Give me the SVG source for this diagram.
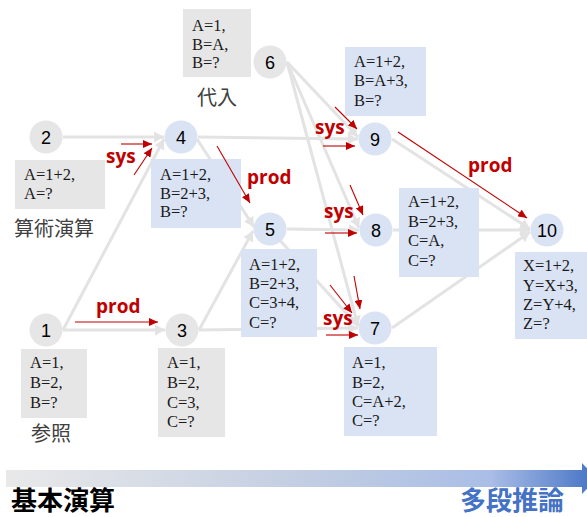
<svg xmlns="http://www.w3.org/2000/svg" width="587" height="517" viewBox="0 0 587 517">
<style>
.edge{stroke:#e3e3e3;stroke-width:3;fill:none}
.red{stroke:#c00000;stroke-width:1.1;fill:none}
.gc{fill:#e7e6e6}
.bc{fill:#dae3f3}
.gb{fill:#e7e6e6}
.bb{fill:#dae3f3}
.num{font-family:"Liberation Sans",Arial,sans-serif;font-size:18px;fill:#000;text-anchor:middle}
.bt{font-family:"Liberation Serif","Times New Roman",serif;font-size:16.5px;fill:#1a1a1a}
.lab{font-family:"Open Sans","Liberation Sans",sans-serif;font-weight:bold;font-size:19px;fill:#c00000}
.cjk{font-family:"Noto Sans CJK JP","Noto Sans CJK SC",sans-serif;font-size:20px;fill:#404040}
.big{font-family:"Noto Sans CJK JP","Noto Sans CJK SC",sans-serif;font-size:26px;font-weight:bold}
</style>
<defs>
<marker id="ga" markerUnits="userSpaceOnUse" markerWidth="11" markerHeight="11" refX="10" refY="5.5" orient="auto">
<path d="M0,0 L10,5.5 L0,11 z" fill="#e3e3e3"/>
</marker>
<marker id="ra" markerUnits="userSpaceOnUse" markerWidth="9" markerHeight="8" refX="9" refY="4" orient="auto">
<path d="M0,0 L9,4 L0,8 z" fill="#c00000"/>
</marker>
<linearGradient id="bar" x1="0" y1="0" x2="1" y2="0">
<stop offset="0" stop-color="#e9e9e9"/>
<stop offset="0.5" stop-color="#c3cee2"/>
<stop offset="0.82" stop-color="#a9bde6"/>
<stop offset="1" stop-color="#4472c4"/>
</linearGradient>
</defs>
<rect width="587" height="517" fill="#fff"/>

<g id="connectors">
<line class="edge" x1="63" y1="137" x2="164" y2="137" marker-end="url(#ga)"/>
<line class="edge" x1="63" y1="330" x2="164" y2="139" marker-end="url(#ga)"/>
<line class="edge" x1="63" y1="330" x2="165" y2="330" marker-end="url(#ga)"/>
<line class="edge" x1="199" y1="330" x2="253" y2="231" marker-end="url(#ga)"/>
<line class="edge" x1="199" y1="330" x2="358" y2="328" marker-end="url(#ga)"/>
<line class="edge" x1="197" y1="139" x2="254" y2="227" marker-end="url(#ga)"/>
<line class="edge" x1="198" y1="137" x2="358" y2="139" marker-end="url(#ga)"/>
<line class="edge" x1="287" y1="229" x2="359" y2="230" marker-end="url(#ga)"/>
<line class="edge" x1="275" y1="235" x2="358" y2="326" marker-end="url(#ga)"/>
<line class="edge" x1="287" y1="62" x2="358" y2="137" marker-end="url(#ga)"/>
<line class="edge" x1="287" y1="62" x2="359" y2="228" marker-end="url(#ga)"/>
<line class="edge" x1="287" y1="62" x2="358" y2="326" marker-end="url(#ga)"/>
<line class="edge" x1="392" y1="139" x2="530" y2="229" marker-end="url(#ga)"/>
<line class="edge" x1="393" y1="230" x2="530" y2="230" marker-end="url(#ga)"/>
<line class="edge" x1="392" y1="328" x2="530" y2="232" marker-end="url(#ga)"/>
</g>

<g id="node1">
<rect class="gb" x="21" y="349" width="66" height="69"/>
<text class="bt" x="30" y="368">A=1,</text>
<text class="bt" x="30" y="388">B=2,</text>
<text class="bt" x="30" y="408">B=?</text>
<text class="cjk" x="31" y="441">参照</text>
<circle class="gc" cx="46" cy="330" r="16.5"/>
<text class="num" x="46" y="336.5">1</text>
</g>

<g id="node2">
<rect class="gb" x="15" y="160" width="90" height="49"/>
<text class="bt" x="24" y="180">A=1+2,</text>
<text class="bt" x="24" y="199">A=?</text>
<text class="cjk" x="14" y="236">算術演算</text>
<circle class="gc" cx="46" cy="137" r="16.5"/>
<text class="num" x="46" y="143.5">2</text>
</g>

<g id="node3">
<rect class="gb" x="158" y="348" width="67" height="89"/>
<text class="bt" x="167" y="368">A=1,</text>
<text class="bt" x="167" y="388">B=2,</text>
<text class="bt" x="167" y="408">C=3,</text>
<text class="bt" x="167" y="427">C=?</text>
<circle class="gc" cx="182" cy="330" r="16.5"/>
<text class="num" x="182" y="336.5">3</text>
</g>

<g id="node4">
<rect class="bb" x="151" y="159" width="90" height="69"/>
<text class="bt" x="160" y="180">A=1+2,</text>
<text class="bt" x="160" y="199">B=2+3,</text>
<text class="bt" x="160" y="217">B=?</text>
<circle class="bc" cx="181" cy="137" r="16.5"/>
<text class="num" x="181" y="143.5">4</text>
</g>

<g id="node5">
<rect class="bb" x="241" y="249" width="76" height="88"/>
<text class="bt" x="249" y="270">A=1+2,</text>
<text class="bt" x="249" y="289">B=2+3,</text>
<text class="bt" x="249" y="308">C=3+4,</text>
<text class="bt" x="249" y="328">C=?</text>
<circle class="bc" cx="270" cy="229" r="16.5"/>
<text class="num" x="270" y="235.5">5</text>
</g>

<g id="node6">
<rect class="gb" x="183" y="9" width="68" height="68"/>
<text class="bt" x="192" y="31">A=1,</text>
<text class="bt" x="192" y="50">B=A,</text>
<text class="bt" x="192" y="68">B=?</text>
<text class="cjk" x="197" y="105">代入</text>
<circle class="gc" cx="270" cy="62" r="16.5"/>
<text class="num" x="270" y="68.5">6</text>
</g>

<g id="node7">
<rect class="bb" x="344" y="347" width="93" height="89"/>
<text class="bt" x="352" y="368">A=1,</text>
<text class="bt" x="352" y="388">B=2,</text>
<text class="bt" x="352" y="407">C=A+2,</text>
<text class="bt" x="352" y="426">C=?</text>
<circle class="bc" cx="375" cy="328" r="16.5"/>
<text class="num" x="375" y="334.5">7</text>
</g>

<g id="node8">
<rect class="bb" x="399" y="188" width="80" height="89"/>
<text class="bt" x="408" y="207">A=1+2,</text>
<text class="bt" x="408" y="226.5">B=2+3,</text>
<text class="bt" x="408" y="246">C=A,</text>
<text class="bt" x="408" y="265.5">C=?</text>
<circle class="bc" cx="376" cy="230" r="16.5"/>
<text class="num" x="376" y="236.5">8</text>
</g>

<g id="node9">
<rect class="bb" x="345" y="47" width="81" height="69"/>
<text class="bt" x="354" y="67">A=1+2,</text>
<text class="bt" x="354" y="86">B=A+3,</text>
<text class="bt" x="354" y="106">B=?</text>
<circle class="bc" cx="375" cy="139" r="16.5"/>
<text class="num" x="375" y="145.5">9</text>
</g>

<g id="node10">
<rect class="bb" x="515" y="252" width="72" height="87"/>
<text class="bt" x="523" y="271">X=1+2,</text>
<text class="bt" x="523" y="291">Y=X+3,</text>
<text class="bt" x="523" y="310">Z=Y+4,</text>
<text class="bt" x="523" y="329">Z=?</text>
<circle class="bc" cx="547" cy="230" r="16.5"/>
<text class="num" x="547" y="236.5">10</text>
</g>

<g id="annotations">
<line class="red" x1="121" y1="144" x2="152" y2="144" marker-end="url(#ra)"/>
<line class="red" x1="134" y1="175" x2="152" y2="148" marker-end="url(#ra)"/>
<line class="red" x1="217" y1="146" x2="250" y2="203" marker-end="url(#ra)"/>
<line class="red" x1="75" y1="322" x2="158" y2="322" marker-end="url(#ra)"/>
<line class="red" x1="335" y1="107" x2="357" y2="129" marker-end="url(#ra)"/>
<line class="red" x1="323" y1="146" x2="355" y2="146" marker-end="url(#ra)"/>
<line class="red" x1="350" y1="185" x2="363" y2="215" marker-end="url(#ra)"/>
<line class="red" x1="325" y1="233" x2="357" y2="233" marker-end="url(#ra)"/>
<line class="red" x1="330" y1="285" x2="352" y2="313" marker-end="url(#ra)"/>
<line class="red" x1="354" y1="276" x2="360" y2="309" marker-end="url(#ra)"/>
<line class="red" x1="326" y1="335" x2="358" y2="335" marker-end="url(#ra)"/>
<line class="red" x1="398" y1="132" x2="527" y2="218" marker-end="url(#ra)"/>
<text class="lab" x="106" y="163">sys</text>
<text class="lab" x="247" y="184">prod</text>
<text class="lab" x="96" y="313">prod</text>
<text class="lab" x="315" y="134">sys</text>
<text class="lab" x="324" y="218">sys</text>
<text class="lab" x="323" y="325">sys</text>
<text class="lab" x="468" y="172">prod</text>
</g>

<g id="axis">
<polygon points="6,470 582,470 582,463 597,478.5 582,494 582,487 6,487" fill="url(#bar)"/>
<text class="big" x="11" y="510" fill="#000">基本演算</text>
<text class="big" x="460" y="510" fill="#4472c4">多段推論</text>
</g>
</svg>
